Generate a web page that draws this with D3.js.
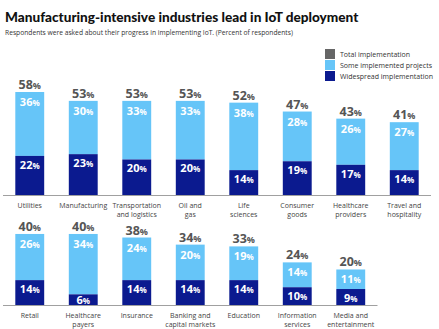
<!DOCTYPE html>
<html>
<head>
<meta charset="utf-8">
<script src="https://cdn.jsdelivr.net/npm/d3@7"></script>
<style>
  body { margin: 0; background: #fff; }
  svg { display: block; font-family: "Open Sans", sans-serif; }
</style>
</head>
<body>
<svg id="chart" width="439" height="329"></svg>
<script>
// IoT deployment by industry, percent of respondents
const categories = [
  "Utilities", "Manufacturing", "Transportation\nand logistics", "Oil and\ngas",
  "Life\nsciences", "Consumer\ngoods", "Healthcare\nproviders", "Travel and\nhospitality",
  "Retail", "Healthcare\npayers", "Insurance", "Banking and\ncapital markets",
  "Education", "Information\nservices", "Media and\nentertainment"
];
const widespread = [22, 23, 20, 20, 14, 19, 17, 14, 14, 6, 14, 14, 14, 10, 9];
const someProjects = [36, 30, 33, 33, 38, 28, 26, 27, 26, 34, 24, 20, 19, 14, 11];
const total = [58, 53, 53, 53, 52, 47, 43, 41, 40, 40, 38, 34, 33, 24, 20];
const legendLabels = ["Total implementation", "Some implemented projects", "Widespread implementation"];

const colors = { total: "#666666", some: "#66c5f8", wide: "#0b1a8f" };
const perRow = 8;

const rows = [0, 1].map(r => categories.slice(r * perRow, r * perRow + perRow).map((c, i) => {
  const k = r * perRow + i;
  return { cat: c, wide: widespread[k], some: someProjects[k], total: total[k], i };
}));

const svg = d3.select("#chart");

svg.append("text")
  .attr("x", 5).attr("y", 22)
  .style("font-family", "Lato, sans-serif")
  .style("font-size", "13.6px").style("font-weight", 900).attr("fill", "#111")
  .text("Manufacturing-intensive industries lead in IoT deployment");
svg.append("text")
  .attr("x", 5).attr("y", 35)
  .style("font-size", "6.7px").attr("fill", "#333")
  .text("Respondents were asked about their progress in implementing IoT. (Percent of respondents)");

// legend
const legend = svg.append("g").attr("transform", "translate(325,49)");
[colors.total, colors.some, colors.wide].forEach((c, i) => {
  legend.append("rect").attr("x", 0).attr("y", i * 11).attr("width", 10).attr("height", 10).attr("fill", c);
  legend.append("text").attr("x", 15).attr("y", i * 11 + 7.5)
    .style("font-size", "7px").attr("fill", "#333").text(legendLabels[i]);
});

const x = d3.scaleBand().domain(d3.range(perRow)).range([3, 431])
  .paddingInner(0.46).paddingOuter(0.23);

const rowBase = [195, 305];
const pxPerPct = 103 / 58;

function pct(sel, value, size, pctSize) {
  sel.append("tspan").style("font-size", size + "px").text(value);
  sel.append("tspan").style("font-size", pctSize + "px").text("%");
}

rows.forEach((data, r) => {
  const base = rowBase[r];
  const y = d3.scaleLinear().domain([0, 58]).range([base, base - 58 * pxPerPct]);
  const g = svg.append("g");

  g.append("line")
    .attr("x1", x.range()[0]).attr("x2", x.range()[0] + x.step() * data.length)
    .attr("y1", base + 0.5).attr("y2", base + 0.5)
    .attr("stroke", "#a0a0a0").attr("stroke-width", 1);

  const bars = g.selectAll("g.bar").data(data).join("g").attr("class", "bar");

  bars.append("rect")
    .attr("x", d => x(d.i)).attr("width", x.bandwidth())
    .attr("y", d => y(d.wide + d.some)).attr("height", d => y(d.wide) - y(d.wide + d.some))
    .attr("fill", colors.some);
  bars.append("rect")
    .attr("x", d => x(d.i)).attr("width", x.bandwidth())
    .attr("y", d => y(d.wide)).attr("height", d => y(0) - y(d.wide))
    .attr("fill", colors.wide);

  bars.append("text")
    .attr("x", d => x(d.i) + x.bandwidth() / 2).attr("y", d => y(d.total) - 3)
    .attr("text-anchor", "middle").attr("fill", "#555").style("font-weight", 700)
    .each(function (d) { pct(d3.select(this), d.total, 12.5, 9); });

  bars.append("text")
    .attr("x", d => x(d.i) + x.bandwidth() / 2).attr("y", d => y(d.wide + d.some) + 14)
    .attr("text-anchor", "middle").attr("fill", "#fff").style("font-weight", 700)
    .each(function (d) { pct(d3.select(this), d.some, 11, 8); });

  bars.append("text")
    .attr("x", d => x(d.i) + x.bandwidth() / 2).attr("y", d => Math.min(y(d.wide) + 13, base - 1))
    .attr("text-anchor", "middle").attr("fill", "#fff").style("font-weight", 700)
    .each(function (d) { pct(d3.select(this), d.wide, 11, 8); });

  bars.append("text")
    .attr("x", d => x(d.i) + x.bandwidth() / 2).attr("y", base + 13)
    .attr("text-anchor", "middle").attr("fill", "#444").style("font-size", "7px")
    .selectAll("tspan").data(d => d.cat.split("\n")).join("tspan")
    .attr("x", function () { return this.parentNode.getAttribute("x"); })
    .attr("dy", (d, i) => i ? 8.5 : 0)
    .text(d => d);
});
</script>
</body>
</html>
